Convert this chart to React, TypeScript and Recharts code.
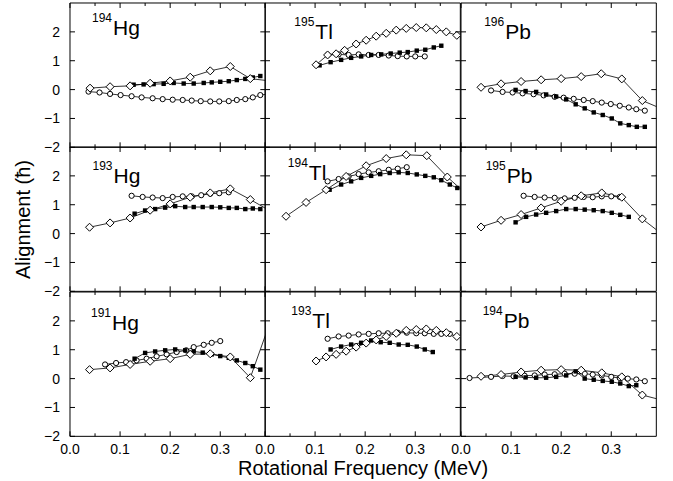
import React from 'react';
import { LineChart, Line, XAxis, YAxis } from 'recharts';

type Pt = [number, number];

// ---------- data (x = rotational frequency MeV, y = alignment) ----------
// 194Hg
const hg194Diamonds: Pt[] = [[0.04,0.05],[0.08,0.1],[0.12,0.13],[0.16,0.22],[0.2,0.3],[0.24,0.43],[0.28,0.65],[0.32,0.8],[0.36,0.38],[0.40,0.3]];
const hg194Squares: Pt[] = [[0.127,0.17],[0.147,0.18],[0.167,0.19],[0.187,0.2],[0.207,0.23],[0.227,0.21],[0.247,0.21],[0.267,0.23],[0.283,0.25],[0.3,0.27],[0.317,0.29],[0.333,0.33],[0.35,0.37],[0.365,0.42],[0.38,0.47]];
const hg194Circles: Pt[] = [[0.037,-0.07],[0.059,-0.1],[0.08,-0.15],[0.101,-0.19],[0.123,-0.23],[0.143,-0.27],[0.165,-0.3],[0.185,-0.33],[0.205,-0.35],[0.225,-0.36],[0.243,-0.38],[0.261,-0.4],[0.28,-0.41],[0.298,-0.41],[0.317,-0.4],[0.333,-0.36],[0.35,-0.33],[0.365,-0.27],[0.38,-0.19],[0.40,-0.14]];
// 195Tl
const tl195Diamonds: Pt[] = [[0.102,0.86],[0.125,1.2],[0.142,1.24],[0.159,1.36],[0.182,1.58],[0.202,1.71],[0.222,1.85],[0.242,1.95],[0.262,2.06],[0.282,2.12],[0.302,2.15],[0.322,2.14],[0.342,2.08],[0.362,2.0],[0.383,1.88]];
const tl195Squares: Pt[] = [[0.109,0.84],[0.131,0.95],[0.152,1.03],[0.172,1.1],[0.192,1.15],[0.212,1.2],[0.232,1.22],[0.251,1.25],[0.269,1.28],[0.285,1.3],[0.303,1.35],[0.32,1.38],[0.337,1.46],[0.352,1.52]];
const tl195Circles: Pt[] = [[0.125,1.2],[0.147,1.22],[0.167,1.2],[0.187,1.22],[0.207,1.2],[0.227,1.2],[0.247,1.18],[0.265,1.16],[0.283,1.15],[0.3,1.15],[0.319,1.15]];
// 196Pb
const pb196Diamonds: Pt[] = [[0.04,0.08],[0.08,0.2],[0.12,0.28],[0.16,0.34],[0.2,0.38],[0.24,0.45],[0.28,0.55],[0.321,0.37],[0.362,-0.38],[0.40,-0.66]];
const pb196Squares: Pt[] = [[0.109,-0.01],[0.129,-0.05],[0.15,-0.08],[0.17,-0.17],[0.19,-0.24],[0.21,-0.34],[0.229,-0.51],[0.247,-0.65],[0.265,-0.79],[0.283,-0.88],[0.301,-1.0],[0.318,-1.17],[0.335,-1.23],[0.351,-1.29],[0.367,-1.29]];
const pb196Circles: Pt[] = [[0.06,-0.03],[0.083,-0.08],[0.103,-0.1],[0.123,-0.13],[0.145,-0.16],[0.165,-0.2],[0.187,-0.25],[0.205,-0.28],[0.225,-0.32],[0.245,-0.36],[0.263,-0.4],[0.281,-0.45],[0.299,-0.5],[0.317,-0.56],[0.335,-0.62],[0.35,-0.68],[0.367,-0.73]];
// 193Hg
const hg193Diamonds: Pt[] = [[0.039,0.22],[0.08,0.37],[0.12,0.54],[0.16,0.81],[0.2,1.03],[0.24,1.26],[0.28,1.41],[0.32,1.55],[0.36,1.18],[0.40,0.78]];
const hg193Squares: Pt[] = [[0.129,0.69],[0.15,0.8],[0.17,0.85],[0.19,0.9],[0.21,0.95],[0.23,0.92],[0.247,0.92],[0.265,0.92],[0.283,0.92],[0.3,0.91],[0.317,0.89],[0.333,0.89],[0.35,0.85],[0.365,0.87],[0.38,0.85]];
const hg193Circles: Pt[] = [[0.123,1.31],[0.145,1.27],[0.165,1.25],[0.185,1.23],[0.205,1.27],[0.225,1.29],[0.243,1.29],[0.262,1.33],[0.28,1.38],[0.298,1.4],[0.317,1.43]];
// 194Tl
const tl194Diamonds: Pt[] = [[0.042,0.6],[0.082,1.08],[0.122,1.52],[0.162,1.98],[0.202,2.35],[0.242,2.6],[0.282,2.73],[0.323,2.7],[0.364,1.96],[0.40,1.4]];
const tl194Squares: Pt[] = [[0.129,1.52],[0.152,1.7],[0.172,1.81],[0.192,1.93],[0.212,2.0],[0.23,2.06],[0.249,2.1],[0.267,2.12],[0.285,2.1],[0.303,2.05],[0.32,2.0],[0.337,1.95],[0.352,1.85],[0.369,1.7],[0.384,1.58]];
const tl194Circles: Pt[] = [[0.125,1.81],[0.147,1.89],[0.167,1.98],[0.187,2.06],[0.207,2.12],[0.227,2.16],[0.247,2.21],[0.265,2.25],[0.283,2.3]];
// 195Pb
const pb195Diamonds: Pt[] = [[0.04,0.23],[0.08,0.46],[0.12,0.66],[0.16,0.89],[0.2,1.12],[0.24,1.31],[0.281,1.41],[0.321,1.26],[0.362,0.51],[0.40,0.0]];
const pb195Squares: Pt[] = [[0.109,0.39],[0.13,0.58],[0.15,0.66],[0.17,0.72],[0.19,0.78],[0.21,0.85],[0.229,0.85],[0.247,0.83],[0.265,0.81],[0.283,0.78],[0.301,0.72],[0.318,0.65],[0.335,0.58]];
const pb195Circles: Pt[] = [[0.125,1.31],[0.147,1.27],[0.167,1.25],[0.187,1.24],[0.207,1.22],[0.227,1.24],[0.245,1.27],[0.263,1.26],[0.281,1.29],[0.3,1.29],[0.317,1.27]];
// 191Hg
const hg191Diamonds: Pt[] = [[0.039,0.31],[0.08,0.37],[0.12,0.49],[0.16,0.6],[0.2,0.69],[0.24,0.84],[0.28,0.86],[0.32,0.75],[0.36,0.03],[0.40,1.98]];
const hg191Squares: Pt[] = [[0.129,0.69],[0.15,0.89],[0.17,0.94],[0.19,0.98],[0.21,1.01],[0.23,0.98],[0.247,0.94],[0.265,0.9],[0.283,0.84],[0.3,0.78],[0.317,0.72],[0.333,0.63],[0.35,0.54],[0.365,0.43],[0.38,0.31]];
const hg191Circles: Pt[] = [[0.07,0.49],[0.092,0.54],[0.112,0.57],[0.133,0.63],[0.153,0.69],[0.173,0.77],[0.193,0.84],[0.213,0.92],[0.232,0.98],[0.247,1.09],[0.267,1.17],[0.283,1.24],[0.3,1.3]];
// 193Tl
const tl193Diamonds: Pt[] = [[0.102,0.61],[0.122,0.75],[0.142,0.84],[0.162,0.95],[0.182,1.09],[0.202,1.23],[0.222,1.34],[0.242,1.46],[0.262,1.57],[0.282,1.67],[0.302,1.7],[0.322,1.72],[0.342,1.67],[0.362,1.59],[0.383,1.46]];
const tl193Squares: Pt[] = [[0.131,1.01],[0.152,1.11],[0.172,1.18],[0.192,1.24],[0.212,1.32],[0.231,1.26],[0.249,1.24],[0.267,1.18],[0.285,1.17],[0.303,1.11],[0.319,1.01],[0.335,0.92]];
const tl193Circles: Pt[] = [[0.125,1.38],[0.147,1.46],[0.167,1.49],[0.187,1.53],[0.207,1.55],[0.227,1.57],[0.245,1.57],[0.265,1.59],[0.283,1.59],[0.302,1.57],[0.319,1.57],[0.337,1.55],[0.352,1.55],[0.369,1.55]];
// 194Pb
const pb194Diamonds: Pt[] = [[0.04,0.08],[0.08,0.14],[0.12,0.23],[0.16,0.29],[0.2,0.31],[0.24,0.29],[0.281,0.2],[0.321,0.06],[0.362,-0.57],[0.40,-0.74]];
const pb194Squares: Pt[] = [[0.109,0.06],[0.129,0.04],[0.15,0.03],[0.17,0.03],[0.19,0.06],[0.21,0.11],[0.229,0.25],[0.247,0.0],[0.265,-0.04],[0.283,-0.08],[0.301,-0.11],[0.318,-0.17],[0.335,-0.26],[0.35,-0.23]];
const pb194Circles: Pt[] = [[0.017,0.02],[0.06,0.06],[0.083,0.09],[0.105,0.08],[0.127,0.1],[0.147,0.11],[0.167,0.14],[0.187,0.15],[0.207,0.17],[0.227,0.17],[0.247,0.17],[0.263,0.14],[0.281,0.11],[0.3,0.06],[0.317,0.02],[0.333,0.0],[0.35,-0.03],[0.367,-0.09]];

const massNumbers = ['194', '195', '196', '193', '194', '195', '191', '193', '194'];
const elements = ['Hg', 'Tl', 'Pb', 'Hg', 'Tl', 'Pb', 'Hg', 'Tl', 'Pb'];
const xTicks = [0, 0.05, 0.1, 0.15, 0.2, 0.25, 0.3, 0.35];
const yTicks = [-2, -1, 0, 1, 2];
const yRightTicks = [-1, 0, 1, 2];
const xDomain = [0, 0.39];
const yDomain = [-2, 3];

const panelSeries: { diamonds: Pt[]; squares: Pt[]; circles: Pt[] }[] = [
  { diamonds: hg194Diamonds, squares: hg194Squares, circles: hg194Circles },
  { diamonds: tl195Diamonds, squares: tl195Squares, circles: tl195Circles },
  { diamonds: pb196Diamonds, squares: pb196Squares, circles: pb196Circles },
  { diamonds: hg193Diamonds, squares: hg193Squares, circles: hg193Circles },
  { diamonds: tl194Diamonds, squares: tl194Squares, circles: tl194Circles },
  { diamonds: pb195Diamonds, squares: pb195Squares, circles: pb195Circles },
  { diamonds: hg191Diamonds, squares: hg191Squares, circles: hg191Circles },
  { diamonds: tl193Diamonds, squares: tl193Squares, circles: tl193Circles },
  { diamonds: pb194Diamonds, squares: pb194Squares, circles: pb194Circles },
];

// ---------- layout ----------
const FONT = '"Liberation Sans", Arial, Helvetica, sans-serif';
const PLOT_L = 70;
const PLOT_R = 656;
const PLOT_T = 3;
const PLOT_B = 436;
const PW = (PLOT_R - PLOT_L) / 3;
const PH = (PLOT_B - PLOT_T) / 3;
const labelOffsets: [number, number][] = [
  [22, 32], [29, 36], [23.5, 36],
  [22.5, 35.5], [22.5, 33], [25, 36],
  [21, 38], [26, 36.5], [22, 36.5],
];

const toRows = (pts: Pt[]) => pts.map(([x, y]) => ({ x, y }));

const diamondDot = (p: any) => {
  const { cx, cy, index } = p;
  if (cx == null || cy == null) return <g key={`dn${index}`} />;
  const s = 4;
  return (
    <path key={`d${index}`} d={`M${cx},${cy - s}L${cx + s},${cy}L${cx},${cy + s}L${cx - s},${cy}Z`}
      fill="#fff" stroke="#000" strokeWidth={1} />
  );
};
const squareDot = (p: any) => {
  const { cx, cy, index } = p;
  if (cx == null || cy == null) return <g key={`sn${index}`} />;
  const s = 2.2;
  return <rect key={`s${index}`} x={cx - s} y={cy - s} width={2 * s} height={2 * s} fill="#000" />;
};
const circleDot = (p: any) => {
  const { cx, cy, index } = p;
  if (cx == null || cy == null) return <g key={`cn${index}`} />;
  return <circle key={`c${index}`} cx={cx} cy={cy} r={2.6} fill="#fff" stroke="#000" strokeWidth={1} />;
};

const fmtY = (v: number) => (v < 0 ? '\u2212' + Math.abs(v) : String(v));

const XTick = (props: any) => {
  const { x, y, payload, side, showLabel } = props;
  const v = payload.value as number;
  const major = Math.round(v * 100) % 10 === 0;
  const len = major ? 5 : 3;
  const dir = side === 'bottom' ? -1 : 1;
  return (
    <g>
      <line x1={x} x2={x} y1={y} y2={y + dir * len} stroke="#000" strokeWidth={1} />
      {showLabel && major && (
        <text x={x} y={y + 17.5} textAnchor="middle" fontSize={14} fontFamily={FONT} fill="#000">
          {v.toFixed(1)}
        </text>
      )}
    </g>
  );
};

const YTick = (props: any) => {
  const { x, y, payload, side, showLabel } = props;
  const v = payload.value as number;
  const dir = side === 'left' ? 1 : -1;
  return (
    <g>
      <line x1={x} x2={x + dir * 5} y1={y} y2={y} stroke="#000" strokeWidth={1} />
      {showLabel && (
        <text x={x - 10} y={y + 5} textAnchor="end" fontSize={14} fontFamily={FONT} fill="#000">
          {fmtY(v)}
        </text>
      )}
    </g>
  );
};

function Panel({ idx }: { idx: number }) {
  const col = idx % 3;
  const row = Math.floor(idx / 3);
  const left = PLOT_L + col * PW;
  const top = PLOT_T + row * PH;
  const padL = col === 0 ? 70 : 16;
  const padR = 16;
  const padT = 3;
  const padB = row === 2 ? 28 : 12;
  const s = panelSeries[idx];
  const axisLine = { stroke: '#000', strokeWidth: 1 };
  return (
    <div style={{ position: 'absolute', left: left - padL, top: top - padT }}>
      <LineChart width={PW + padL + padR} height={PH + padT + padB}
        margin={{ top: padT - 1, right: padR - 1, bottom: padB - 1, left: padL - 1 }}>
        <XAxis xAxisId="b" orientation="bottom" type="number" dataKey="x" domain={xDomain} allowDataOverflow
          ticks={xTicks} interval={0} height={1} tickSize={0} tickMargin={0} tickLine={false} axisLine={axisLine}
          tick={<XTick side="bottom" showLabel={row === 2} />} />
        <XAxis xAxisId="t" orientation="top" type="number" dataKey="x" domain={xDomain} allowDataOverflow
          ticks={xTicks} interval={0} height={1} tickSize={0} tickMargin={0} tickLine={false} axisLine={axisLine}
          tick={<XTick side="top" showLabel={false} />} />
        <YAxis yAxisId="l" orientation="left" type="number" domain={yDomain} allowDataOverflow
          ticks={yTicks} interval={0} width={1} tickSize={0} tickMargin={0} tickLine={false} axisLine={axisLine}
          tick={<YTick side="left" showLabel={col === 0} />} />
        <YAxis yAxisId="r" orientation="right" type="number" domain={yDomain} allowDataOverflow
          ticks={yRightTicks} interval={0} width={1} tickSize={0} tickMargin={0} tickLine={false} axisLine={axisLine}
          tick={<YTick side="right" showLabel={false} />} />
        <Line xAxisId="b" yAxisId="l" data={toRows(s.circles)} dataKey="y" stroke="#000" strokeWidth={0.8}
          dot={circleDot} activeDot={false} isAnimationActive={false} />
        <Line xAxisId="b" yAxisId="l" data={toRows(s.squares)} dataKey="y" stroke="#000" strokeWidth={0.8}
          dot={squareDot} activeDot={false} isAnimationActive={false} />
        <Line xAxisId="b" yAxisId="l" data={toRows(s.diamonds)} dataKey="y" stroke="#000" strokeWidth={0.8}
          dot={diamondDot} activeDot={false} isAnimationActive={false} />
      </LineChart>
    </div>
  );
}

export default function App() {
  const idxs = [0, 1, 2, 3, 4, 5, 6, 7, 8];
  return (
    <div style={{ position: 'absolute', left: 0, top: 0, width: 673, height: 481, background: '#fff', fontFamily: FONT }}>
      {idxs.map((i) => <Panel key={i} idx={i} />)}
      <svg width={673} height={481} style={{ position: 'absolute', left: 0, top: 0, pointerEvents: 'none' }}>
        {idxs.map((i) => {
          const col = i % 3;
          const row = Math.floor(i / 3);
          const x0 = PLOT_L + col * PW + labelOffsets[i][0];
          const yb = PLOT_T + row * PH + labelOffsets[i][1];
          return (
            <g key={i} fontFamily={FONT} fill="#000">
              <text x={x0} y={yb - 13} fontSize={12}>{massNumbers[i]}</text>
              <text x={x0 + 21} y={yb} fontSize={21}>{elements[i]}</text>
            </g>
          );
        })}
        <text x={(PLOT_L + PLOT_R) / 2} y={475} textAnchor="middle" fontSize={20} fontFamily={FONT} fill="#000">
          Rotational Frequency (MeV)
        </text>
        <text transform={`translate(30, ${(PLOT_T + PLOT_B) / 2}) rotate(-90)`} textAnchor="middle" fontSize={20}
          fontFamily={FONT} fill="#000">
          Alignment (ħ)
        </text>
      </svg>
    </div>
  );
}
